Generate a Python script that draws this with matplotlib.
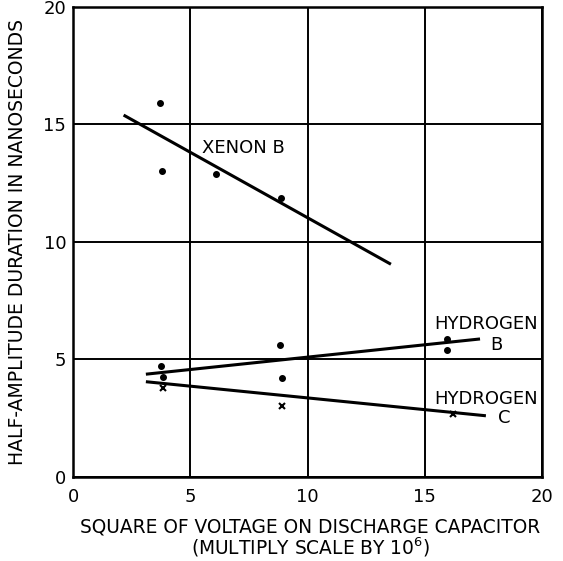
import matplotlib
matplotlib.use("Agg")
import matplotlib.pyplot as plt

# Data
xenon_x = [3.7, 3.8, 6.1, 8.85]
xenon_y = [15.9, 13.0, 12.9, 11.85]
xenon_line_x = [2.15, 13.55]
xenon_line_y = [15.4, 9.05]

h2b_x = [3.75, 3.85, 8.8, 8.9, 15.95, 15.95]
h2b_y = [4.7, 4.27, 5.63, 4.2, 5.88, 5.42]
h2b_line_x = [3.1, 17.35]
h2b_line_y = [4.37, 5.87]

h2c_x = [3.85, 8.9, 16.2]
h2c_y = [3.77, 3.0, 2.68]
h2c_line_x = [3.1, 17.6]
h2c_line_y = [4.05, 2.6]

ticks = [0, 5, 10, 15, 20]
tick_labels = ["0", "5", "10", "15", "20"]

plt.rcParams['font.family'] = ['DejaVu Sans']

fig = plt.figure(figsize=(5.63, 5.61), dpi=100)
ax = fig.add_axes([0.130, 0.150, 0.833, 0.8375])
ax.set_xlim(0, 20)
ax.set_ylim(0, 20)
ax.set_xticks(ticks)
ax.set_yticks(ticks)
ax.set_xticklabels(tick_labels, fontsize=13)
ax.set_yticklabels(tick_labels, fontsize=13)
ax.tick_params(axis='x', length=0, pad=8)
ax.tick_params(axis='y', length=0, pad=5)
ax.grid(True, color='black', linewidth=1.4)
ax.set_axisbelow(True)
for s in ax.spines.values():
    s.set_color('black')
    s.set_linewidth(1.8)

ax.plot(xenon_line_x, xenon_line_y, color='black', lw=2.2, solid_capstyle='butt')
ax.plot(h2b_line_x, h2b_line_y, color='black', lw=2.2, solid_capstyle='butt')
ax.plot(h2c_line_x, h2c_line_y, color='black', lw=2.2, solid_capstyle='butt')

ax.plot(xenon_x, xenon_y, 'o', color='black', ms=4, ls='none')
ax.plot(h2b_x, h2b_y, 'o', color='black', ms=4, ls='none')
ax.plot(h2c_x, h2c_y, 'x', color='black', ms=4, mew=1.5, ls='none')

fs = 13
ax.text(5.5, 14.0, "XENON B", fontsize=fs, va='center', ha='left')
ax.text(15.4, 6.5, "HYDROGEN", fontsize=fs, va='center', ha='left')
ax.text(17.8, 5.6, "B", fontsize=fs, va='center', ha='left')
ax.text(15.4, 3.3, "HYDROGEN", fontsize=fs, va='center', ha='left')
ax.text(18.1, 2.5, "C", fontsize=fs, va='center', ha='left')

fig.text(0.551, 0.0606, "SQUARE OF VOLTAGE ON DISCHARGE CAPACITOR",
         fontsize=13.4, ha='center', va='center')
fig.text(0.551, 0.024, "(MULTIPLY SCALE BY 10$^{6}$)",
         fontsize=13.4, ha='center', va='center')
ax.set_ylabel("HALF-AMPLITUDE DURATION IN NANOSECONDS", fontsize=13.5, labelpad=12)

fig.savefig("out.png", dpi=100)
